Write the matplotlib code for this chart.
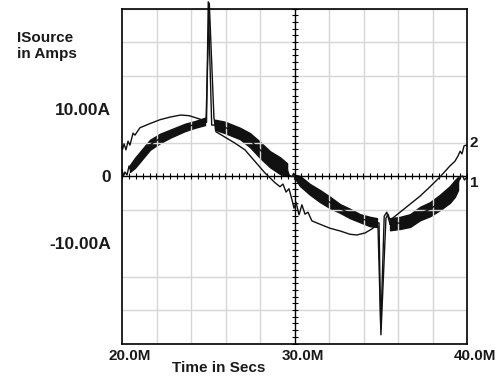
import matplotlib
matplotlib.use('Agg')
import matplotlib.pyplot as plt
import matplotlib.transforms as mtransforms
import numpy as np

plt.rcParams['font.family'] = ['Liberation Sans', 'DejaVu Sans']

# trace 2: thin source current (time in ms, current in A)
t2 = [20.0, 20.03, 20.12, 20.23, 20.35, 20.46, 20.64, 20.75, 21.04, 21.6, 22.2, 22.8, 23.4, 23.9,
      24.5, 24.8, 24.87, 25.06, 25.33, 25.45, 25.97, 26.55, 27.13, 27.7, 28.29, 28.87, 29.16, 29.33,
      29.51, 29.68, 29.86, 29.97, 30.09, 30.26, 30.43, 30.61, 30.78, 31.01, 31.48, 32.06, 32.64,
      33.22, 33.62, 34.09, 34.49, 34.78, 34.84, 35.01, 35.3, 35.42, 35.54, 36.12, 36.7, 37.28,
      37.86, 38.43, 39.01, 39.3, 39.48, 39.6, 39.71, 39.83, 39.94, 40.0]
i2 = [4.3, 4.0, 4.8, 3.9, 5.2, 4.6, 6.4, 6.1, 7.2, 7.8, 8.4, 8.8, 9.1, 9.0,
      8.5, 8.2, 8.1, 25.8, 8.7, 6.6, 5.8, 4.9, 3.9, 2.2, 0.45, -1.0, -1.6, -1.2,
      -2.4, -1.9, -3.6, -4.8, -3.9, -5.8, -4.3, -5.7, -5.4, -6.7, -7.2, -7.8, -8.2,
      -8.7, -8.8, -8.5, -7.9, -7.3, -7.5, -23.7, -6.3, -5.7, -6.6, -5.4, -4.2, -3.0,
      -1.6, -0.15, 1.5, 2.2, 3.0, 3.7, 3.3, 4.5, 4.6, 4.5]

# trace 1: switching ripple band (upper / lower envelope)
band_t = [20.46, 20.75, 21.04, 21.62, 22.2, 22.78, 23.65, 24.23, 24.81,
          25.39, 25.97, 26.84, 27.42, 28.0, 28.58, 29.16, 29.57,
          30.09, 30.32, 30.9, 31.48, 32.06, 32.64, 33.22, 33.8, 34.38, 34.78,
          35.54, 36.12, 36.7, 37.28, 37.86, 38.43, 39.01, 39.3, 39.48]
band_hi = [1.64, 2.7, 3.6, 5.4, 6.3, 6.9, 7.8, 8.2, 8.7,
           8.4, 8.1, 7.2, 6.4, 5.1, 3.7, 2.8, 1.9,
           0.15, 0.0, -1.2, -2.1, -3.1, -4.2, -4.9, -5.7, -6.1, -6.3,
           -6.3, -6.1, -5.7, -4.6, -3.9, -2.8, -1.5, -0.6, -0.15]
band_lo = [0.6, 1.2, 2.1, 3.9, 4.9, 5.7, 6.7, 7.2, 7.6,
           6.9, 6.4, 5.5, 4.3, 2.7, 1.3, 0.3, 0.0,
           -0.6, -1.5, -2.8, -3.9, -4.8, -5.5, -6.3, -6.9, -7.5, -7.6,
           -8.1, -7.9, -7.6, -6.6, -6.0, -5.1, -4.0, -3.1, -2.1]
# where the band breaks for spikes and zero crossings
band_seg = [0, 0, 0, 0, 0, 0, 0, 0, 0,
            1, 1, 1, 1, 1, 1, 1, 1,
            2, 2, 2, 2, 2, 2, 2, 2, 2, 2,
            3, 3, 3, 3, 3, 3, 3, 3, 3]

# trace 1 outside the band: start, spikes, zero crossing, end
t1_start = [20.0, 20.09, 20.17, 20.29, 20.41, 20.46]
i1_start = [0.9, 0.0, 0.6, 0.15, 1.5, 1.1]
t1_spike_up = [24.81, 24.9, 25.0, 25.2, 25.39]
i1_spike_up = [8.1, 8.0, 26.0, 7.6, 7.6]
t1_cross = [29.57, 29.7, 29.85, 29.95, 30.05, 30.09]
i1_cross = [1.0, 0.1, -0.1, 0.4, -0.6, -0.2]
t1_spike_dn = [34.78, 34.9, 35.0, 35.2, 35.35, 35.54]
i1_spike_dn = [-7.0, -7.0, -22.8, -6.0, -5.4, -7.2]
t1_end = [39.48, 39.6, 39.75, 39.85, 39.95, 40.0]
i1_end = [-1.1, -0.15, 0.0, -0.6, -0.3, 0.0]

x_ticks = [20, 30, 40]
x_labels = ['20.0M', '30.0M', '40.0M']
y_ticks = [-10, 0, 10]
y_labels = ['-10.00A', '0', '10.00A']

fig = plt.figure(figsize=(5.01, 3.80), dpi=100)
ax = fig.add_axes([122 / 501, 1 - 343.5 / 380, 345 / 501, 335 / 380])
ax.set_xlim(20, 40)
ax.set_ylim(-25, 25)

# light grid every division
ax.set_xticks(np.arange(20, 41, 2), minor=True)
ax.set_yticks(np.arange(-25, 26, 5), minor=True)
ax.grid(True, which='minor', color='#d6d6d6', linewidth=1.0)
ax.tick_params(which='both', length=0)

# centre cross with small ticks
ax.axhline(0, color='black', linewidth=1.0)
ax.axvline(30, color='black', linewidth=1.0)
ax.plot(np.arange(20, 40.01, 0.4), np.zeros(51), linestyle='none', marker='|',
        markersize=4, markeredgewidth=0.8, color='black')
ax.plot(np.full(51, 30.0), np.arange(-25, 25.1, 1.0), linestyle='none', marker='_',
        markersize=4, markeredgewidth=0.8, color='black')

for s in ax.spines.values():
    s.set_linewidth(1.2)
    s.set_color('black')

# trace 1
bt = np.array(band_t)
bh = np.array(band_hi)
bl = np.array(band_lo)
seg = np.array(band_seg)
for k in range(4):
    m = seg == k
    ax.fill_between(bt[m], bl[m], bh[m], color='#111111', linewidth=1.0, edgecolor='#111111')
    ax.plot(bt[m], (bh[m] + bl[m]) / 2, color='#111111', linewidth=1.0)
for tt, ii in [(t1_start, i1_start), (t1_spike_up, i1_spike_up), (t1_cross, i1_cross),
               (t1_spike_dn, i1_spike_dn), (t1_end, i1_end)]:
    ax.plot(tt, ii, color='#111111', linewidth=1.0, clip_on=False)

# trace 2
ax.plot(t2, i2, color='#111111', linewidth=1.0, clip_on=False)

font = dict(fontsize=11, fontweight='bold', color='#1a1a1a')
ax.set_xticks(x_ticks)
ax.set_xticklabels(x_labels, **font)
ax.set_yticks(y_ticks)
ax.set_yticklabels(y_labels, fontsize=12.5, fontweight='bold', color='#1a1a1a')
ax.tick_params(axis='x', which='major', pad=4)
ax.tick_params(axis='y', which='major', pad=8)
shift = mtransforms.ScaledTranslation(8 / 100, 0, fig.dpi_scale_trans)
for lab in ax.get_xticklabels():
    lab.set_transform(lab.get_transform() + shift)

fig.text(17 / 501, 1 - 38 / 380, 'ISource', ha='left', va='center', **font)
fig.text(17 / 501, 1 - 54 / 380, 'in Amps', ha='left', va='center', **font)
fig.text(219 / 501, 1 - 368 / 380, 'Time in Secs', ha='center', va='center', **font)
fig.text(470 / 501, 1 - 143 / 380, '2', ha='left', va='center', **font)
fig.text(470 / 501, 1 - 183 / 380, '1', ha='left', va='center', **font)

fig.savefig('out.png', dpi=100)
